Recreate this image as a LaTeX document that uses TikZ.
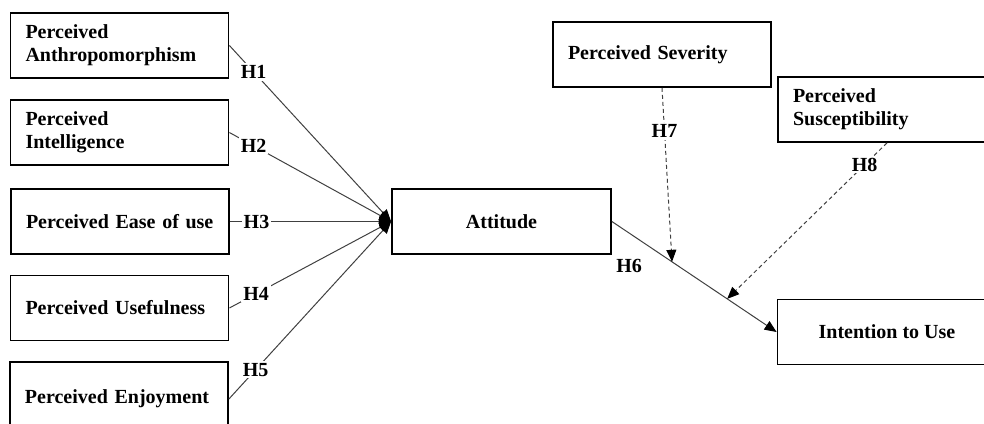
\documentclass[tikz,border=0pt]{standalone}
\usepackage{fontspec}
\setmainfont{Liberation Serif}
\usetikzlibrary{arrows.meta,positioning}
\tikzset{
    construct/.style = {draw, line width=0.9pt, minimum height=32.5pt, inner xsep=7.5pt,
        font=\bfseries\fontsize{10}{11.5}\selectfont},
    leftbox/.style = {construct, text width=94pt, align=left},
    midbox/.style = {construct, minimum width=109.5pt, align=center},
    link/.style = {draw=black!75, line width=0.5pt,
        -{Triangle[length=6pt,width=5pt,color=black]}},
    modlink/.style = {link, dash pattern=on 2pt off 1.5pt},
    hyp/.style = {fill=white, inner sep=1pt, font=\bfseries\fontsize{10}{11.5}\selectfont},
}

\begin{document}
\begin{tikzpicture}[x=0.5pt, y=-0.5pt]
    \useasboundingbox (0,0) rectangle (984,423);
    \clip (0,0) rectangle (984,423);

    % predictors
    \node[leftbox] (pa) at (119.5,45.5) {Perceived\\Anthropomorphism};
    \node[leftbox] (pint) at (119.5,132.5) {Perceived\\Intelligence};
    \node[leftbox] (peou) at (120,221.5) {Perceived Ease of use};
    \node[leftbox] (pu) at (119.5,308) {Perceived Usefulness};
    \node[leftbox, minimum height=37pt] (penj) at (119,399) {Perceived Enjoyment};

    \node[midbox] (att) at (501.5,221.5) {Attitude};
    \node[midbox] (itu) at (887,332) {Intention to Use};

    % moderators
    \node[leftbox] (sev) at (662,54.5) {Perceived Severity};
    \node[leftbox] (sus) at (887,109.5) {Perceived\\Susceptibility};

    \draw[link] (pa.east) -- node[hyp, pos=0.15] {H1} (att.west);
    \draw[link] (pint.east) -- node[hyp, pos=0.15] {H2} (att.west);
    \draw[link] (peou.east) -- node[hyp, pos=0.165] {H3} (att.west);
    \draw[link] (pu.east) -- node[hyp, pos=0.165] {H4} (att.west);
    \draw[link] (penj.east) -- node[hyp, pos=0.165] {H5} (att.west);

    \draw[link] (att.east) -- (itu.west)
        coordinate[pos=0.365] (m7) coordinate[pos=0.70] (m8);
    \node[hyp, anchor=north west] (h6) at ([shift={(2,2)}]att.south east) {H6};

    \draw[modlink] (sev.south) -- node[hyp, pos=0.25] {H7} (m7);
    \draw[modlink] (sus.south) -- node[hyp, pos=0.14] {H8} (m8);

\end{tikzpicture}
\end{document}
